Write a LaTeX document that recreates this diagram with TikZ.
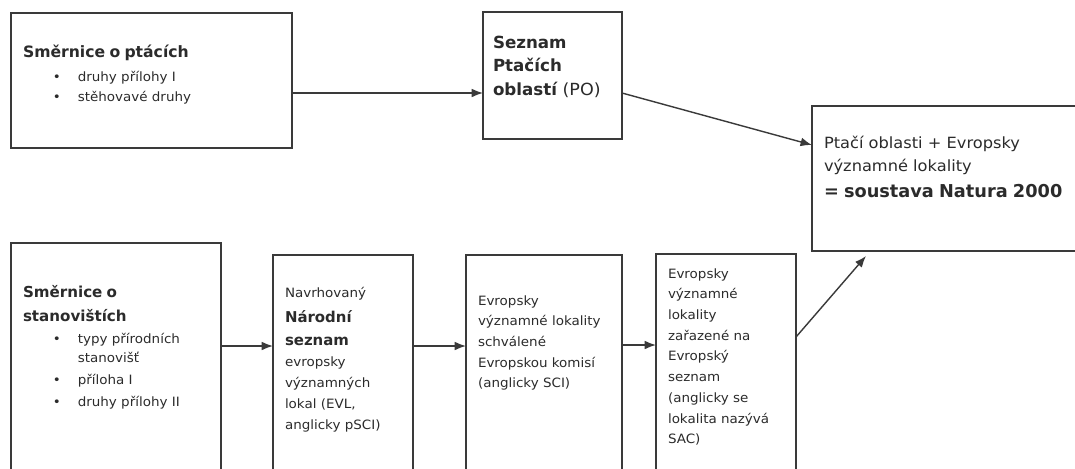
\documentclass[tikz,border=0pt]{standalone}
\usepackage{fontspec}
\setmainfont{DejaVu Sans}[FakeStretch=1.05,BoldFeatures={FakeStretch=1.0}]
\usetikzlibrary{arrows.meta,fit}
\definecolor{ink}{HTML}{2B2B2B}
\definecolor{edge}{HTML}{3A3A3A}
\begin{document}
\begin{tikzpicture}[x=0.02cm,y=-0.02cm,
  box/.style={draw=edge,line width=0.8pt,inner sep=0pt,outer sep=0pt},
  txt/.style={anchor=base west,inner sep=0pt,outer sep=0pt,align=left,text width=6cm,text=ink,
    font=\fontsize{7.3}{11.9}\selectfont},
  arr/.style={draw=edge,line width=0.8pt,-{Latex[length=6.5pt,width=5pt]}}]
\useasboundingbox (0,0) rectangle (1075,468);
\fill[white] (0,0) rectangle (1075,468);
\clip (0,0) rectangle (1075,468);
\newcommand{\bl}[1]{\hspace*{17pt}\makebox[14.2pt][l]{\textbullet}#1}
\newcommand{\bc}[1]{\hspace*{31.2pt}#1}
% boxes
\node[box,fit={(11,13) (292,148)}] (b1) {};
\node[box,fit={(483,12) (622,139)}] (b2) {};
\node[box,fit={(812,106) (1090,251)}] (b3) {};
\node[box,fit={(11,243) (221,490)}] (b4) {};
\node[box,fit={(273,255) (413,490)}] (b5) {};
\node[box,fit={(466,255) (622,490)}] (b6) {};
\node[box,fit={(656,254) (796,490)}] (b7) {};
% texts
\node[txt] (t1) at (23,57) {{\bfseries\fontsize{8.9}{10}\selectfont Směrnice o ptácích}\\[2.2pt]
  \bl{druhy přílohy I}\\[-0.6pt]
  \bl{stěhovavé druhy}};
\node[txt,font=\fontsize{9.5}{13.4}\selectfont\bfseries] (t2) at (493,48) {Seznam\\Ptačích\\oblastí {\mdseries(PO)}};
\node[txt,font=\fontsize{8.8}{13.6}\selectfont] (t3) at (824,148) {Ptačí oblasti + Evropsky\\
  významné lokality\\[1.1pt]
  {\bfseries\fontsize{10.1}{12}\selectfont = soustava Natura 2000}};
\node[txt] (t4) at (23,297) {{\bfseries\fontsize{8.6}{10}\selectfont Směrnice o}\\[2.3pt]
  {\bfseries\fontsize{8.6}{10}\selectfont stanovištích}\\[0.6pt]
  \bl{typy přírodních}\\[-1.1pt]
  \bc{stanovišť}\\[0.6pt]
  \bl{příloha I}\\[0.6pt]
  \bl{druhy přílohy II}};
\node[txt] (t5) at (285,297) {Navrhovaný\\[2.8pt]
  {\bfseries\fontsize{8.5}{10}\selectfont Národní}\\[1.1pt]
  {\bfseries\fontsize{8.5}{10}\selectfont seznam}\\
  evropsky\\významných\\lokal (EVL,\\anglicky pSCI)};
\node[txt,font=\fontsize{7.3}{11.8}\selectfont] (t6) at (478,305) {Evropsky\\významné lokality\\schválené\\Evropskou komisí\\(anglicky SCI)};
\node[txt,font=\fontsize{7.3}{11.8}\selectfont] (t7) at (668,278) {Evropsky\\významné\\lokality\\zařazené na\\Evropský\\seznam\\(anglicky se\\lokalita nazývá\\SAC)};
% connectors
\coordinate (e6) at (866,256);
\draw[arr] (b1.east |- 0,93) -- (b2.west |- 0,93);
\draw[arr] (b2.east |- 0,93) -- (b3.west |- 0,145);
\draw[arr] (b4.east |- 0,346) -- (b5.west |- 0,346);
\draw[arr] (b5.east |- 0,346) -- (b6.west |- 0,346);
\draw[arr] (b6.east |- 0,345) -- (b7.west |- 0,345);
\draw[arr] (b7.east |- 0,337) -- (e6);
\end{tikzpicture}
\end{document}
